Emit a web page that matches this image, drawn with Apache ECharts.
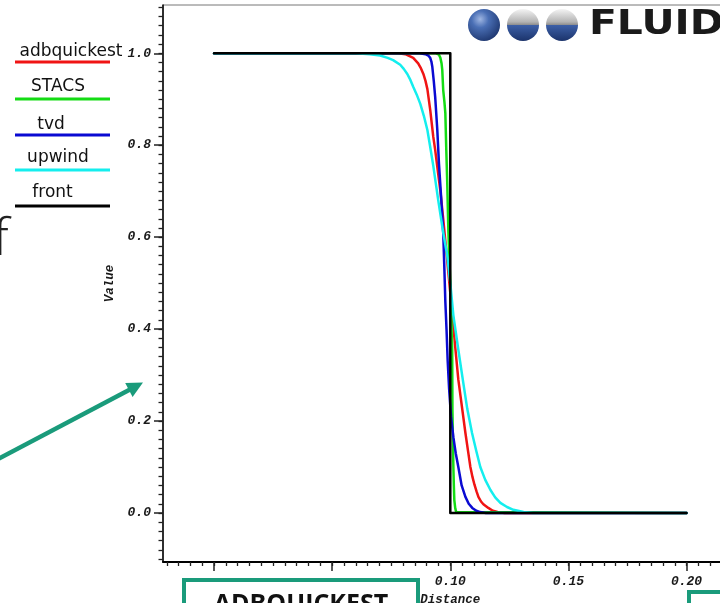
<!DOCTYPE html>
<html>
<head>
<meta charset="utf-8">
<script src="https://cdn.jsdelivr.net/npm/echarts@6/dist/echarts.min.js"></script>
<style>
  html, body { margin: 0; padding: 0; background: #ffffff; }
  #chart { width: 720px; height: 603px; }
</style>
</head>
<body>
<div id="chart"></div>
<script>
// Profiles of a transported step: value against distance for each scheme.
const seriesNames = ['adbquickest', 'STACS', 'tvd', 'upwind', 'front'];

const adbquickest = [
  [0, 1], [0.078, 1], [0.081, 0.998], [0.0843, 0.99], [0.0864, 0.978], [0.0876, 0.967],
  [0.0886, 0.955], [0.0895, 0.94], [0.0903, 0.922], [0.0915, 0.877], [0.0928, 0.818],
  [0.0936, 0.79], [0.0947, 0.745], [0.0958, 0.70], [0.097, 0.64], [0.0985, 0.56],
  [0.0996, 0.5], [0.1008, 0.435], [0.1021, 0.36], [0.1034, 0.29], [0.105, 0.228],
  [0.1064, 0.174], [0.1075, 0.135], [0.1085, 0.1], [0.1094, 0.078], [0.1102, 0.062],
  [0.1111, 0.047], [0.1119, 0.035], [0.1130, 0.025], [0.1140, 0.019], [0.1161, 0.011],
  [0.118, 0.005], [0.12, 0.002], [0.123, 0], [0.2, 0]
];
const stacs = [
  [0, 1], [0.094, 1], [0.0952, 0.997], [0.0958, 0.99], [0.0963, 0.978], [0.0966, 0.964],
  [0.097, 0.92], [0.0975, 0.895], [0.0979, 0.87], [0.0983, 0.79], [0.0987, 0.72],
  [0.0992, 0.61], [0.1, 0.5], [0.1004, 0.426], [0.1008, 0.355], [0.1009, 0.224],
  [0.1011, 0.16], [0.1013, 0.1], [0.1015, 0.06], [0.1017, 0.028], [0.1021, 0.01],
  [0.1025, 0.002], [0.103, 0], [0.2, 0]
];
const tvd = [
  [0, 1], [0.087, 1], [0.0895, 0.998], [0.0907, 0.995], [0.0915, 0.99], [0.092, 0.982],
  [0.0924, 0.97], [0.093, 0.94], [0.0936, 0.905], [0.0945, 0.833], [0.0952, 0.76],
  [0.0962, 0.68], [0.097, 0.61], [0.0975, 0.53], [0.0979, 0.46], [0.0984, 0.40],
  [0.0989, 0.33], [0.0995, 0.27], [0.1003, 0.21], [0.1013, 0.165], [0.1023, 0.13],
  [0.1034, 0.1], [0.1048, 0.06], [0.1064, 0.035], [0.1078, 0.02], [0.1093, 0.011],
  [0.111, 0.005], [0.1127, 0.002], [0.115, 0], [0.2, 0]
];
const upwind = [
  [0, 1], [0.060, 1], [0.066, 0.998], [0.0703, 0.995], [0.0735, 0.99], [0.0758, 0.985],
  [0.0788, 0.975], [0.0803, 0.966], [0.0818, 0.955], [0.0831, 0.942], [0.0843, 0.927],
  [0.0858, 0.91], [0.0873, 0.89], [0.0888, 0.864], [0.0903, 0.833], [0.0915, 0.796],
  [0.0928, 0.755], [0.0949, 0.68], [0.097, 0.61], [0.0987, 0.56], [0.1, 0.5],
  [0.1013, 0.43], [0.1034, 0.355], [0.1055, 0.283], [0.1072, 0.226], [0.1092, 0.174],
  [0.111, 0.135], [0.1127, 0.1], [0.1148, 0.072], [0.117, 0.05], [0.119, 0.034],
  [0.1212, 0.022], [0.124, 0.013], [0.1267, 0.007], [0.131, 0.002], [0.135, 0], [0.2, 0]
];
const front = [[0, 1], [0.1, 1], [0.1, 0], [0.2, 0]];

const xMajorTicks = [0, 0.05, 0.10, 0.15, 0.20];
const xLabelValues = [0.10, 0.15, 0.20];
const xTickLabels = ['0.10', '0.15', '0.20'];
const yMajorTicks = [0, 0.2, 0.4, 0.6, 0.8, 1.0];
const yTickLabels = ['0.0', '0.2', '0.4', '0.6', '0.8', '1.0'];

// Minor tick positions: every 0.005 along distance, every 0.02 along value.
const xMinorTicks = [];
for (let i = -4; i <= 44; i++) xMinorTicks.push(+(i * 0.005).toFixed(3));
const yMinorTicks = [];
for (let i = -5; i <= 55; i++) yMinorTicks.push(+(i * 0.02).toFixed(2));

const lineColors = ['#f01414', '#14dc14', '#0a0ad2', '#14eeee', '#000000'];
const teal = '#1a9b7b';

const tickFont = {
  fontFamily: 'Liberation Mono', fontStyle: 'italic', fontWeight: 'bold',
  fontSize: 13, color: '#1a1a1a'
};

function labelFor(values, labels) {
  return function (v) {
    for (let i = 0; i < values.length; i++) {
      if (Math.abs(values[i] - v) < 1e-9) return labels[i];
    }
    return '';
  };
}

const chart = echarts.init(document.getElementById('chart'), null, { renderer: 'canvas' });

const seriesData = [adbquickest, stacs, tvd, upwind, front];
const series = seriesData.map(function (data, i) {
  return {
    name: seriesNames[i],
    type: 'line',
    xAxisIndex: 0,
    yAxisIndex: 0,
    data: data,
    showSymbol: false,
    symbol: 'none',
    smooth: false,
    lineStyle: { color: lineColors[i], width: 2.5, join: 'round', cap: 'round' },
    z: 2 + i,
    silent: true
  };
});

// Legend block: caption above a coloured stroke for each scheme.
const legendTextPos = [[71, 52], [58, 87], [51, 124.5], [58, 157.5], [52.5, 193]];
const legendLineY = [62, 99, 135, 170, 206];
const legendGraphics = [];
seriesNames.forEach(function (name, i) {
  legendGraphics.push({
    type: 'text', x: legendTextPos[i][0], y: legendTextPos[i][1], z: 100,
    style: { text: name, font: '17px "DejaVu Sans"', fill: '#111', textAlign: 'center', textVerticalAlign: 'middle' }
  });
  legendGraphics.push({
    type: 'line', z: 100,
    shape: { x1: 15, y1: legendLineY[i], x2: 110, y2: legendLineY[i] },
    style: { stroke: lineColors[i], lineWidth: 3 }
  });
});

const sphereBlue = {
  type: 'radial', x: 0.38, y: 0.32, r: 0.75,
  colorStops: [
    { offset: 0, color: '#9fb6e2' }, { offset: 0.35, color: '#4a6fb5' },
    { offset: 1, color: '#1b336b' }
  ]
};
const sphereHalf = {
  type: 'linear', x: 0, y: 0, x2: 0, y2: 1,
  colorStops: [
    { offset: 0, color: '#f4f4f4' }, { offset: 0.40, color: '#b4b4b4' },
    { offset: 0.50, color: '#8c8c8c' }, { offset: 0.51, color: '#3c5fa6' },
    { offset: 1, color: '#1b336b' }
  ]
};

const graphics = [
  // slide text fragment at the left edge
  { type: 'text', x: -7, y: 266, z: 100,
    style: { text: 'f', font: '300 52px "Open Sans"', fill: '#222', textAlign: 'left', textVerticalAlign: 'bottom' } },
  // pointer arrow
  { type: 'line', z: 100, shape: { x1: -2, y1: 459, x2: 130, y2: 389.5 },
    style: { stroke: teal, lineWidth: 4.5 } },
  { type: 'polygon', z: 100, shape: { points: [[143, 382.5], [125.2, 382.9], [132.6, 397.1]] },
    style: { fill: teal } },
  // caption boxes along the bottom
  { type: 'rect', z: 100, shape: { x: 184, y: 580, width: 234, height: 80 },
    style: { fill: '#ffffff', stroke: teal, lineWidth: 4 } },
  { type: 'text', x: 301, y: 605, z: 101,
    style: { text: 'ADBQUICKEST', font: 'bold 25px "Open Sans"', fill: '#111', textAlign: 'center', textVerticalAlign: 'middle' } },
  { type: 'rect', z: 100, shape: { x: 689, y: 592, width: 80, height: 60 },
    style: { fill: '#ffffff', stroke: teal, lineWidth: 4 } },
  // logo
  { type: 'circle', z: 100, shape: { cx: 484, cy: 25, r: 16 }, style: { fill: sphereBlue } },
  { type: 'circle', z: 100, shape: { cx: 523, cy: 25, r: 16 }, style: { fill: sphereHalf } },
  { type: 'circle', z: 100, shape: { cx: 562, cy: 25, r: 16 }, style: { fill: sphereHalf } },
  { type: 'text', x: 589, y: 25, z: 100, scaleX: 1.2,
    style: { text: 'FLUID', font: 'bold 34px "DejaVu Sans"', fill: '#1a1a1a', textAlign: 'left', textVerticalAlign: 'middle' } }
].concat(legendGraphics);

const xRange = { min: -0.0216, max: 0.2216 };
const yRange = { min: -0.1066, max: 1.105 };

const option = {
  animation: false,
  backgroundColor: '#ffffff',
  textStyle: { fontFamily: 'Liberation Mono' },
  grid: {
    left: 163, top: 5, width: 574.6, height: 557,
    show: true, borderColor: '#777777', borderWidth: 1,
    backgroundColor: 'transparent',
    containLabel: false, outerBoundsMode: 'none'
  },
  xAxis: [
    {
      type: 'value', position: 'bottom', min: xRange.min, max: xRange.max,
      name: 'Distance', nameLocation: 'middle', nameGap: 21,
      nameTextStyle: { fontFamily: 'Liberation Mono', fontStyle: 'italic', fontWeight: 'bold', fontSize: 12.5, color: '#1a1a1a' },
      axisLine: { show: true, onZero: false, lineStyle: { color: '#000', width: 2 } },
      axisTick: { show: true, inside: false, length: 9, customValues: xMajorTicks, lineStyle: { color: '#222', width: 1.5 } },
      axisLabel: Object.assign({ show: true, margin: 13, customValues: xLabelValues, formatter: labelFor(xLabelValues, xTickLabels) }, tickFont),
      splitLine: { show: false }, minorTick: { show: false }
    },
    {
      type: 'value', position: 'bottom', min: xRange.min, max: xRange.max,
      axisLine: { show: false, onZero: false },
      axisTick: { show: true, inside: false, length: 4, customValues: xMinorTicks, lineStyle: { color: '#222', width: 1.3 } },
      axisLabel: { show: false },
      splitLine: { show: false }
    }
  ],
  yAxis: [
    {
      type: 'value', position: 'left', min: yRange.min, max: yRange.max,
      name: 'Value', nameLocation: 'middle', nameGap: 47, nameRotate: 90,
      nameTextStyle: { fontFamily: 'Liberation Mono', fontStyle: 'italic', fontWeight: 'bold', fontSize: 12.5, color: '#1a1a1a' },
      axisLine: { show: true, onZero: false, lineStyle: { color: '#000', width: 1.5 } },
      axisTick: { show: true, inside: false, length: 9, customValues: yMajorTicks, lineStyle: { color: '#222', width: 1.5 } },
      axisLabel: Object.assign({ show: true, margin: 12, customValues: yMajorTicks, formatter: labelFor(yMajorTicks, yTickLabels) }, tickFont),
      splitLine: { show: false }
    },
    {
      type: 'value', position: 'left', min: yRange.min, max: yRange.max,
      axisLine: { show: false, onZero: false },
      axisTick: { show: true, inside: false, length: 4.5, customValues: yMinorTicks, lineStyle: { color: '#222', width: 1.3 } },
      axisLabel: { show: false },
      splitLine: { show: false }
    }
  ],
  series: series,
  graphic: { elements: graphics }
};

chart.setOption(option);
</script>
</body>
</html>
